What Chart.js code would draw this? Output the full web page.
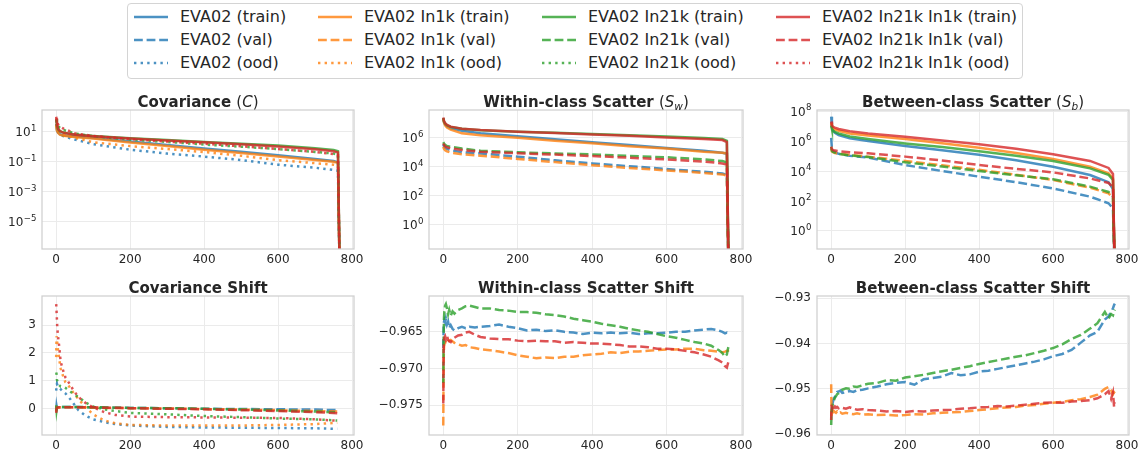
<!DOCTYPE html>
<html>
<head>
<meta charset="utf-8">
<script src="https://cdn.jsdelivr.net/npm/chart.js@4.4.1/dist/chart.umd.min.js"></script>
<style>
  body { margin: 0; background: #fff; width: 1146px; height: 458px; position: relative; overflow: hidden; font-family: "DejaVu Sans", sans-serif; }
  canvas { position: absolute; }
  #legend { position: absolute; left: 127px; top: 3px; width: 894px; height: 74px; border: 1px solid #d4d4d4; border-radius: 4px; background: #fff; }
  .item { position: absolute; height: 22px; line-height: 22px; font-size: 16px; color: #262626; white-space: nowrap; }
  .item svg { position: absolute; left: 0; top: 0; }
  .item span { position: absolute; left: 46px; top: 0; }
</style>
</head>
<body>
<div id="legend"></div>
<canvas id="cov" width="370" height="179"></canvas>
<canvas id="sw" width="385" height="179"></canvas>
<canvas id="sb" width="383" height="179"></canvas>
<canvas id="covShift" width="370" height="179"></canvas>
<canvas id="swShift" width="385" height="179"></canvas>
<canvas id="sbShift" width="383" height="179"></canvas>
<script>
const models = ['EVA02', 'EVA02 In1k', 'EVA02 In21k', 'EVA02 In21k In1k'];
const splits = ['train', 'val', 'ood'];
const colors = ['31,119,180', '255,127,14', '44,160,44', '214,39,40'];
const dashes = { train: [], val: [8.8, 3.8], ood: [2.4, 4.2] };

// eigen-spectrum positions (sorted, 768 dims)
const specIdx = [0, 2, 5, 10, 20, 50, 100, 200, 300, 400, 500, 600, 700, 750, 762, 767];

// covariance spectrum, one row per model
const covTrain = [
  [30, 13, 9, 6.8, 5.7, 4.8, 3.8, 2.2, 1.3, 0.76, 0.46, 0.27, 0.15, 0.11, 0.09, 1e-9],
  [25, 12, 8.5, 6.3, 5.4, 4.5, 3.5, 1.9, 1.1, 0.63, 0.38, 0.22, 0.13, 0.1, 0.085, 1e-9],
  [70, 28, 15, 11, 8.7, 6.5, 5.2, 3.7, 2.8, 2.1, 1.6, 1.2, 0.8, 0.6, 0.5, 1e-9],
  [79, 32, 16, 11, 8.5, 6.3, 5.0, 3.5, 2.6, 2.0, 1.45, 1.05, 0.69, 0.5, 0.42, 1e-9]
];
const covOod = [
  [32, 15, 10, 7, 5, 3.0, 1.5, 0.63, 0.35, 0.22, 0.13, 0.063, 0.04, 0.028, 0.025, 1e-9],
  [32, 18, 12, 9, 6.5, 4.0, 2.0, 1.1, 0.7, 0.44, 0.25, 0.126, 0.08, 0.063, 0.056, 1e-9],
  [60, 35, 25, 18, 13, 7.6, 5.0, 3.0, 2.1, 1.4, 1.0, 0.7, 0.45, 0.35, 0.3, 1e-9],
  [100, 50, 32, 22, 16, 7.9, 5.2, 3.2, 2.2, 1.6, 1.07, 0.71, 0.45, 0.32, 0.28, 1e-9]
];

// within-class scatter spectrum
const swTrain = [
  [2.2e7, 1.2e7, 8e6, 6e6, 4.5e6, 3e6, 2e6, 1.26e6, 7.9e5, 4.8e5, 3.2e5, 2e5, 1.26e5, 9.3e4, 8e4, 1e-4],
  [2e7, 1.1e7, 7e6, 5e6, 3.6e6, 2e6, 1.5e6, 1e6, 6.3e5, 4.1e5, 2.6e5, 1.8e5, 1.1e5, 9.3e4, 8.3e4, 1e-4],
  [2.3e7, 1.3e7, 9.5e6, 7.3e6, 5.6e6, 4.1e6, 3.3e6, 2.6e6, 2.2e6, 1.8e6, 1.5e6, 1.2e6, 9.5e5, 8.1e5, 6e5, 1e-4],
  [2.5e7, 1.4e7, 1e7, 7.6e6, 5.8e6, 4.2e6, 3.4e6, 2.6e6, 2.1e6, 1.7e6, 1.35e6, 1.05e6, 8.3e5, 6.9e5, 5e5, 1e-4]
];
const swVal = [
  [3.5e5, 2.5e5, 2e5, 1.7e5, 1.4e5, 1e5, 8.3e4, 5e4, 2.8e4, 1.7e4, 1.1e4, 7.1e3, 4.5e3, 3.5e3, 2.8e3, 1e-4],
  [2.4e5, 1.7e5, 1.35e5, 1.15e5, 9.5e4, 7.4e4, 5.8e4, 3.5e4, 2.1e4, 1.3e4, 8.3e3, 5.6e3, 3.8e3, 3e3, 2.5e3, 1e-4],
  [5e5, 4e5, 3.2e5, 2.7e5, 2.4e5, 1.8e5, 1.26e5, 1e5, 8.3e4, 7.1e4, 5.6e4, 4.5e4, 3.2e4, 2.5e4, 2e4, 1e-4],
  [4e5, 3.2e5, 2.6e5, 2.2e5, 1.9e5, 1.45e5, 1.07e5, 8.5e4, 6.9e4, 5.5e4, 4.2e4, 3.2e4, 2.3e4, 1.7e4, 1.4e4, 1e-4]
];

// between-class scatter spectrum
const sbTrain = [
  [4.2e7, 7.9e6, 5e6, 3.5e6, 2.5e6, 1.5e6, 1e6, 4.7e5, 2.4e5, 1.2e5, 5.2e4, 1.95e4, 5.4e3, 1.8e3, 630, 1e-3],
  [1.6e7, 8.9e6, 7e6, 6e6, 4.8e6, 3.2e6, 2.3e6, 1.35e6, 7.2e5, 3.6e5, 1.6e5, 6.3e4, 1.95e4, 7e3, 3.2e3, 1e-3],
  [1.1e7, 6.3e6, 5e6, 4e6, 3.2e6, 2e6, 1.35e6, 6.9e5, 4e5, 2.1e5, 1.05e5, 4.7e4, 1.5e4, 5.6e3, 2.5e3, 1e-3],
  [2e7, 1.1e7, 8.9e6, 7.8e6, 6.3e6, 4.5e6, 3.2e6, 1.95e6, 1.1e6, 6e5, 3e5, 1.3e5, 4.7e4, 1.6e4, 6.3e3, 1e-3]
];
const sbVal = [
  [1.6e6, 3.2e5, 2.2e5, 1.8e5, 1.4e5, 1.05e5, 7.8e4, 2.5e4, 1e4, 4.2e3, 1.8e3, 690, 195, 71, 32, 1e-3],
  [3.2e5, 2e5, 1.8e5, 1.6e5, 1.4e5, 1.2e5, 9.1e4, 4.7e4, 2.4e4, 1.2e4, 5.6e3, 2.5e3, 780, 320, 160, 1e-3],
  [4.2e5, 2.2e5, 1.9e5, 1.7e5, 1.4e5, 1.1e5, 8.5e4, 3.8e4, 2e4, 1e4, 5.2e3, 2.8e3, 910, 400, 200, 1e-3],
  [4.2e5, 2.8e5, 2.5e5, 2.3e5, 2.1e5, 1.8e5, 1.5e5, 9.1e4, 5e4, 2.5e4, 1.4e4, 8.1e3, 3.2e3, 1.6e3, 800, 1e-3]
];

// covariance shift
const covShiftIdx = [0, 1, 2, 3, 5, 8, 12, 18, 25, 35, 45, 60, 80, 100, 130, 160, 200, 300, 400, 500, 600, 700, 760];
const covShiftVal = [
  [-0.05, 0.10, 0.02, 0.06, 0.05, 0.06, 0.06, 0.06, 0.06, 0.06, 0.06, 0.06, 0.05, 0.05, 0.04, 0.04, 0.03, 0.02, 0.00, -0.01, -0.02, -0.03, -0.05],
  [-0.10, 0.05, 0.04, 0.03, 0.04, 0.04, 0.05, 0.05, 0.05, 0.05, 0.05, 0.05, 0.04, 0.04, 0.03, 0.03, 0.02, 0.01, -0.01, -0.03, -0.05, -0.08, -0.10],
  [0.12, -0.05, 0.05, 0.06, 0.07, 0.07, 0.06, 0.06, 0.06, 0.06, 0.06, 0.06, 0.06, 0.05, 0.05, 0.04, 0.03, 0.02, 0.00, -0.03, -0.06, -0.10, -0.13],
  [-0.15, 0.00, 0.03, 0.04, 0.05, 0.05, 0.05, 0.05, 0.05, 0.05, 0.05, 0.05, 0.05, 0.05, 0.04, 0.04, 0.02, 0.00, -0.02, -0.05, -0.08, -0.12, -0.16]
];
const covShiftOod = [
  [0.65, 0.85, 0.9, 0.85, 0.78, 0.74, 0.7, 0.62, 0.55, 0.4, 0.22, -0.05, -0.25, -0.38, -0.48, -0.55, -0.6, -0.65, -0.67, -0.68, -0.69, -0.7, -0.72],
  [1.85, 2.6, 2.5, 2.35, 2.1, 1.8, 1.45, 1.2, 0.95, 0.8, 0.6, 0.35, 0.05, -0.2, -0.42, -0.52, -0.58, -0.6, -0.6, -0.6, -0.58, -0.55, -0.5],
  [1.3, 1.25, 1.05, 1.0, 0.9, 0.85, 0.8, 0.8, 0.75, 0.65, 0.55, 0.42, 0.22, 0.08, -0.02, -0.08, -0.15, -0.2, -0.26, -0.3, -0.35, -0.38, -0.42],
  [3.75, 3.5, 3.2, 2.9, 2.6, 2.25, 1.7, 1.4, 1.12, 0.92, 0.7, 0.42, 0.2, 0.05, -0.12, -0.22, -0.28, -0.3, -0.31, -0.32, -0.33, -0.38, -0.43]
];

// scatter shifts (val only)
const shiftIdx = [0, 1, 2, 3, 5, 7, 10, 13, 16, 20, 25, 30, 40, 50, 60, 70, 85, 100, 125, 150, 175, 200, 225, 250, 275, 300, 325, 350, 375, 400, 425, 450, 475, 500, 525, 550, 575, 600, 625, 650, 675, 700, 720, 740, 750, 757, 762, 765, 767];
const swShiftVal = [
  [-0.9672, -0.9642, -0.9636, -0.9634, -0.9637, -0.9632, -0.9640, -0.9636, -0.9645, -0.9641, -0.9646, -0.9648, -0.9645, -0.9643, -0.9645, -0.9643, -0.9644, -0.9643, -0.9642, -0.9640, -0.9643, -0.9645, -0.9648, -0.9647, -0.9649, -0.9648, -0.9650, -0.9651, -0.9653, -0.9651, -0.9652, -0.9651, -0.9652, -0.9651, -0.9653, -0.9652, -0.9652, -0.9651, -0.9650, -0.9650, -0.9648, -0.9647, -0.9646, -0.9648, -0.9650, -0.9652, -0.9651, -0.9652, -0.9652],
  [-0.9778, -0.9690, -0.9670, -0.9667, -0.9665, -0.9664, -0.9666, -0.9663, -0.9662, -0.9661, -0.9663, -0.9665, -0.9667, -0.9669, -0.9668, -0.9671, -0.9672, -0.9674, -0.9675, -0.9677, -0.9679, -0.9682, -0.9684, -0.9686, -0.9685, -0.9686, -0.9684, -0.9684, -0.9682, -0.9681, -0.9680, -0.9678, -0.9679, -0.9677, -0.9677, -0.9676, -0.9675, -0.9674, -0.9674, -0.9673, -0.9673, -0.9675, -0.9676, -0.9677, -0.9678, -0.9677, -0.9676, -0.9676, -0.9675],
  [-0.9720, -0.9655, -0.9630, -0.9622, -0.9614, -0.9612, -0.9618, -0.9626, -0.9620, -0.9628, -0.9622, -0.9625, -0.9620, -0.9618, -0.9615, -0.9614, -0.9616, -0.9618, -0.9618, -0.9620, -0.9621, -0.9623, -0.9623, -0.9624, -0.9626, -0.9627, -0.9629, -0.9632, -0.9634, -0.9636, -0.9639, -0.9641, -0.9643, -0.9646, -0.9648, -0.9650, -0.9653, -0.9656, -0.9658, -0.9661, -0.9664, -0.9666, -0.9669, -0.9675, -0.9679, -0.9684, -0.9681, -0.9673, -0.9669],
  [-0.9748, -0.9675, -0.9662, -0.9658, -0.9656, -0.9660, -0.9655, -0.9661, -0.9663, -0.9664, -0.9660, -0.9658, -0.9655, -0.9654, -0.9651, -0.9650, -0.9654, -0.9657, -0.9659, -0.9660, -0.9660, -0.9662, -0.9663, -0.9662, -0.9663, -0.9663, -0.9665, -0.9664, -0.9665, -0.9666, -0.9666, -0.9667, -0.9668, -0.9670, -0.9670, -0.9671, -0.9673, -0.9673, -0.9674, -0.9676, -0.9678, -0.9681, -0.9684, -0.9689, -0.9692, -0.9697, -0.9699, -0.9693, -0.9690]
];
const sbShiftVal = [
  [-0.9561, -0.9550, -0.9540, -0.9535, -0.9528, -0.9522, -0.9518, -0.9512, -0.9507, -0.9506, -0.9504, -0.9509, -0.9507, -0.9505, -0.9507, -0.9503, -0.9502, -0.9499, -0.9495, -0.9490, -0.9487, -0.9485, -0.9491, -0.9479, -0.9476, -0.9473, -0.9465, -0.9470, -0.9468, -0.9462, -0.9460, -0.9456, -0.9452, -0.9448, -0.9444, -0.9440, -0.9435, -0.9428, -0.9423, -0.9414, -0.9398, -0.9382, -0.9374, -0.9347, -0.9340, -0.9330, -0.9322, -0.9315, -0.9312],
  [-0.9490, -0.9560, -0.9548, -0.9553, -0.9552, -0.9549, -0.9551, -0.9553, -0.9550, -0.9554, -0.9552, -0.9555, -0.9553, -0.9555, -0.9556, -0.9554, -0.9557, -0.9556, -0.9558, -0.9557, -0.9559, -0.9558, -0.9556, -0.9557, -0.9554, -0.9553, -0.9552, -0.9551, -0.9549, -0.9547, -0.9545, -0.9543, -0.9541, -0.9540, -0.9537, -0.9536, -0.9533, -0.9531, -0.9529, -0.9525, -0.9523, -0.9518, -0.9513, -0.9500, -0.9496, -0.9503, -0.9512, -0.9508, -0.9510],
  [-0.9580, -0.9555, -0.9545, -0.9540, -0.9530, -0.9527, -0.9520, -0.9516, -0.9512, -0.9510, -0.9505, -0.9502, -0.9499, -0.9500, -0.9495, -0.9496, -0.9492, -0.9489, -0.9487, -0.9481, -0.9482, -0.9475, -0.9472, -0.9469, -0.9465, -0.9461, -0.9458, -0.9454, -0.9450, -0.9445, -0.9441, -0.9437, -0.9433, -0.9429, -0.9426, -0.9421, -0.9416, -0.9410, -0.9402, -0.9390, -0.9381, -0.9367, -0.9355, -0.9330, -0.9345, -0.9335, -0.9338, -0.9328, -0.9325],
  [-0.9569, -0.9535, -0.9545, -0.9550, -0.9548, -0.9542, -0.9539, -0.9542, -0.9540, -0.9543, -0.9541, -0.9542, -0.9544, -0.9541, -0.9544, -0.9546, -0.9545, -0.9547, -0.9548, -0.9550, -0.9549, -0.9551, -0.9549, -0.9550, -0.9548, -0.9547, -0.9546, -0.9544, -0.9543, -0.9541, -0.9540, -0.9538, -0.9539, -0.9537, -0.9535, -0.9533, -0.9531, -0.9530, -0.9531, -0.9528, -0.9527, -0.9525, -0.9521, -0.9512, -0.9505, -0.9522, -0.9508, -0.9540, -0.9530]
];

const xTicks = [0, 200, 400, 600, 800];

const FAMILY = '"DejaVu Sans", sans-serif';
const TICK_SIZE = 12;
Chart.defaults.font.family = FAMILY;
Chart.defaults.color = '#262626';

function rgba(i, a) { return 'rgba(' + colors[i] + ',' + a + ')'; }

// legend: 4 columns (models) x 3 rows (splits)
const legendCols = [6, 190, 414, 648];
const legendRows = [2, 25, 48];
const legendEl = document.getElementById('legend');
models.forEach((m, i) => {
  splits.forEach((s, j) => {
    const d = document.createElement('div');
    d.className = 'item';
    d.style.left = legendCols[i] + 'px';
    d.style.top = legendRows[j] + 'px';
    d.innerHTML = '<svg width="34" height="22"><line x1="0" y1="11" x2="34" y2="11" stroke="' + rgba(i, 0.8) +
      '" stroke-width="2.4" stroke-dasharray="' + (dashes[s].length ? dashes[s].join(' ') : 'none') + '"/></svg>' +
      '<span>' + m + ' (' + s + ')</span>';
    legendEl.appendChild(d);
  });
});

const framePlugin = {
  id: 'frame',
  afterDatasetsDraw(chart) {
    const a = chart.chartArea, ctx = chart.ctx;
    ctx.save();
    ctx.strokeStyle = '#cfcfcf';
    ctx.lineWidth = 1.25;
    ctx.strokeRect(a.left, a.top, a.right - a.left, a.bottom - a.top);
    ctx.restore();
  }
};

// title made of pieces: bold text, italic math symbol, subscript
const titlePlugin = {
  id: 'panelTitle',
  afterDraw(chart, args, opts) {
    const ctx = chart.ctx, a = chart.chartArea;
    const fontOf = p => (p[1] ? p[1] + ' ' : '') + (p[2] === 'sub' ? '10.5px ' : '15px ') + FAMILY;
    ctx.save();
    let total = 0;
    opts.parts.forEach(p => { ctx.font = fontOf(p); total += ctx.measureText(p[0]).width; });
    let x = (a.left + a.right) / 2 - total / 2;
    const y = a.top - 3.5;
    ctx.fillStyle = '#262626';
    ctx.textAlign = 'left';
    ctx.textBaseline = 'alphabetic';
    opts.parts.forEach(p => {
      ctx.font = fontOf(p);
      ctx.fillText(p[0], x, y + (p[2] === 'sub' ? 3 : 0));
      x += ctx.measureText(p[0]).width;
    });
    ctx.restore();
  }
};

// 10^n labels on log axes, exponent raised and smaller
const powerLabels = {
  id: 'powerLabels',
  afterDraw(chart, args, opts) {
    if (!opts.on) return;
    const ctx = chart.ctx, y = chart.scales.y;
    const base = TICK_SIZE + 'px ' + FAMILY, small = (TICK_SIZE * 0.72).toFixed(1) + 'px ' + FAMILY;
    ctx.save();
    ctx.fillStyle = '#262626';
    ctx.textBaseline = 'alphabetic';
    ctx.textAlign = 'left';
    y.ticks.forEach(t => {
      const py = y.getPixelForValue(t.value);
      if (py < chart.chartArea.top - 1 || py > chart.chartArea.bottom + 1) return;
      const exp = String(Math.round(Math.log10(t.value))).replace('-', '\u2212');
      ctx.font = base;
      const wBase = ctx.measureText('10').width;
      ctx.font = small;
      const wExp = ctx.measureText(exp).width;
      const x0 = chart.chartArea.left - 6 - wBase - wExp;
      ctx.font = base;
      ctx.fillText('10', x0, py + 4.5);
      ctx.font = small;
      ctx.fillText(exp, x0 + wBase + 0.5, py - 0.8);
    });
    ctx.restore();
  }
};

function seriesSets(xs, tables) {
  const out = [];
  models.forEach((m, i) => {
    splits.forEach(s => {
      if (!tables[s]) return;
      out.push({
        label: m + ' (' + s + ')',
        data: xs.map((x, k) => ({ x: x, y: tables[s][i][k] })),
        borderColor: rgba(i, 0.8),
        borderWidth: 2.5,
        borderDash: dashes[s],
        pointRadius: 0,
        tension: 0,
        fill: false
      });
    });
  });
  return out.reverse(); // later series on top
}

function panel(p) {
  const cv = document.getElementById(p.id);
  cv.style.left = p.left + 'px';
  cv.style.top = p.top + 'px';
  const tickFont = { family: FAMILY, size: TICK_SIZE };
  return new Chart(cv, {
    type: 'line',
    data: { datasets: seriesSets(p.xs, p.tables) },
    options: {
      responsive: false,
      animation: false,
      events: [],
      layout: { padding: { top: 18, right: 16, left: 0, bottom: 0 } },
      plugins: {
        legend: { display: false },
        tooltip: { enabled: false },
        panelTitle: { parts: p.title },
        powerLabels: { on: p.log }
      },
      scales: {
        x: {
          type: 'linear',
          min: -38.35,
          max: 805.35,
          grid: { color: '#ebebeb', drawTicks: false },
          border: { display: false },
          ticks: { padding: 4, font: tickFont, color: '#262626', autoSkip: false, maxRotation: 0 },
          afterBuildTicks: s => { s.ticks = xTicks.map(v => ({ value: v })); },
          afterFit: s => { s.height = 22; s.paddingLeft = 0; s.paddingRight = 0; }
        },
        y: {
          type: p.log ? 'logarithmic' : 'linear',
          min: p.min,
          max: p.max,
          grid: { color: '#ebebeb', drawTicks: false },
          border: { display: false },
          ticks: {
            padding: 6,
            font: tickFont,
            color: '#262626',
            autoSkip: false,
            callback: p.log ? () => '' : p.label
          },
          afterBuildTicks: s => { s.ticks = p.yTicks.map(v => ({ value: v })); },
          afterFit: s => { s.width = p.yW; s.paddingTop = 0; s.paddingBottom = 0; }
        }
      }
    },
    plugins: [framePlugin, titlePlugin, powerLabels]
  });
}

const fixedLabel = d => v => v.toFixed(d).replace('-', '\u2212');

panel({ id: 'cov', left: 0, top: 92, yW: 42, xs: specIdx, log: true, min: 1.5e-7, max: 282,
  yTicks: [1e-5, 1e-3, 1e-1, 10],
  tables: { train: covTrain, ood: covOod },
  title: [['Covariance ', 'bold'], ['(', ''], ['C', 'italic'], [')', '']] });
panel({ id: 'sw', left: 374, top: 92, yW: 55, xs: specIdx, log: true, min: 0.022, max: 8.1e7,
  yTicks: [1, 1e2, 1e4, 1e6],
  tables: { train: swTrain, val: swVal },
  title: [['Within-class Scatter ', 'bold'], ['(', ''], ['S', 'italic'], ['w', 'italic', 'sub'], [')', '']] });
panel({ id: 'sb', left: 762, top: 92, yW: 55, xs: specIdx, log: true, min: 0.063, max: 1.17e8,
  yTicks: [1, 1e2, 1e4, 1e6, 1e8],
  tables: { train: sbTrain, val: sbVal },
  title: [['Between-class Scatter ', 'bold'], ['(', ''], ['S', 'italic'], ['b', 'italic', 'sub'], [')', '']] });
panel({ id: 'covShift', left: 0, top: 278, yW: 42, xs: covShiftIdx, log: false, min: -0.94, max: 4.04,
  yTicks: [0, 1, 2, 3], label: fixedLabel(0),
  tables: { val: covShiftVal, ood: covShiftOod },
  title: [['Covariance Shift', 'bold']] });
panel({ id: 'swShift', left: 374, top: 278, yW: 55, xs: shiftIdx, log: false, min: -0.9791, max: -0.9601,
  yTicks: [-0.975, -0.970, -0.965], label: fixedLabel(3),
  tables: { val: swShiftVal },
  title: [['Within-class Scatter Shift', 'bold']] });
panel({ id: 'sbShift', left: 762, top: 278, yW: 55, xs: shiftIdx, log: false, min: -0.9602, max: -0.9295,
  yTicks: [-0.96, -0.95, -0.94, -0.93], label: fixedLabel(2),
  tables: { val: sbShiftVal },
  title: [['Between-class Scatter Shift', 'bold']] });
</script>
</body>
</html>
